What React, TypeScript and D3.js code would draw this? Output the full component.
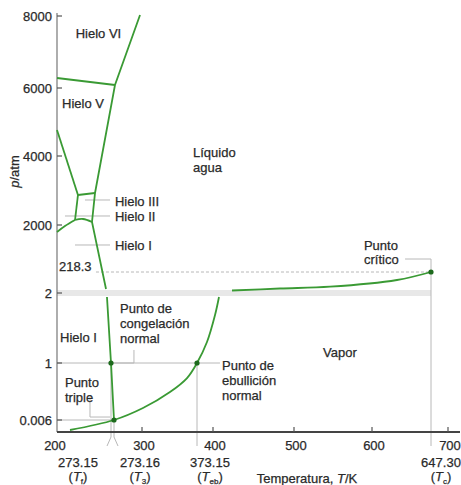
import React from "react";
import * as d3 from "d3";

const W = 461;
const H = 485;

// Schematic (piecewise) scales of the original diagram
const xKnots = [200, 273.15, 273.16, 300, 373.15, 400, 500, 600, 647.3, 700];
const xKnotPx = [57, 111, 114, 142, 197, 213, 294, 372, 431, 448];
const yKnots = [0, 0.006, 1, 2, 218.3, 2000, 4000, 6000, 8000];
const yKnotPx = [432, 420, 363, 293, 272, 225, 156, 88, 16];

const xTicks = [200, 300, 400, 500, 600, 700];
const yTicks = [0.006, 1, 2, 2000, 4000, 6000, 8000];
const yTickLabels = ["0.006", "1", "2", "2000", "4000", "6000", "8000"];

const specialT = [273.15, 273.16, 373.15, 647.3];
const specialTLabels = ["273.15", "273.16", "373.15", "647.30"];
const specialTSubs = ["f", "3", "eb", "c"];
const specialTDx = [-33, 26, 13, 10];

// Phase boundaries (T / K, p / atm)
const meltLow: [number, number][] = [[273.16, 0.006], [273.15, 1], [267.7, 1.943]];
const meltHigh: [number, number][] = [[266.4, 43.2], [247.4, 2087], [251.5, 2928], [274.1, 6083], [298.1, 8028]];
const iceV_VI: [number, number][] = [[200, 6278], [274.1, 6083]];
const iceII_V: [number, number][] = [[200, 4765], [228.4, 2870]];
const iceIII_V: [number, number][] = [[228.4, 2870], [251.5, 2928]];
const iceII_III: [number, number][] = [[224.4, 2145], [228.4, 2870]];
const iceIII_I: [number, number][] = [[224.4, 2145], [235.2, 2174], [247.4, 2087]];
const iceI_II: [number, number][] = [[200, 1735], [210.8, 1962], [224.4, 2145]];
const vapLow: [number, number][] = [
  [217.6, 0.001], [273.16, 0.006], [301.3, 0.215], [337.2, 0.494], [359.9, 0.738],
  [373.15, 1], [389.9, 1.3], [402.5, 1.686], [407.4, 1.943],
];
const vapHigh: [number, number][] = [[423.5, 27.8], [482.7, 48.4], [546.2, 66.9], [620, 136], [647.3, 218.3]];

const points: [number, number][] = [[273.15, 1], [273.16, 0.006], [373.15, 1], [647.3, 218.3]];

// Grey guide / leader lines
const guides: [number, number][][] = [
  [[200, 1], [408.6, 1]],
  [[200, 0.006], [273.16, 0.006]],
  [[237.9, 2725], [271.8, 2725]],
  [[210.8, 2261], [271.8, 2261]],
  [[224.4, 1242], [271.8, 1242]],
  [[273.15, 1], [292.3, 1], [292.3, 1.186]],
  [[244.7, 0.442], [244.7, 0.058], [271.8, 0.058]],
  [[626.5, 711], [647.3, 711]],
  [[273.15, 1], [273.15, 0]],
  [[273.16, 0.006], [273.16, 0]],
  [[373.15, 1], [373.15, 0]],
  [[647.3, 711], [647.3, 0]],
];
const critLine: [number, number][] = [[252.8, 218.3], [647.3, 218.3]];

const labels: { t: string; T: number; p: number }[] = [
  { t: "Hielo VI", T: 225.3, p: 7528 },
  { t: "Hielo V", T: 206.8, p: 5559 },
  { t: "Líquido", T: 367.8, p: 4118 },
  { t: "agua", T: 367.8, p: 3681 },
  { t: "Hielo III", T: 274.1, p: 2696 },
  { t: "Hielo II", T: 274.1, p: 2261 },
  { t: "Hielo I", T: 274.1, p: 1242 },
  { t: "Punto", T: 589.7, p: 1242 },
  { t: "crítico", T: 589.7, p: 711 },
  { t: "Punto de", T: 278.9, p: 1.786 },
  { t: "congelación", T: 278.9, p: 1.571 },
  { t: "normal", T: 278.9, p: 1.357 },
  { t: "Hielo I", T: 204.1, p: 1.371 },
  { t: "Punto", T: 210.8, p: 0.669 },
  { t: "triple", T: 210.8, p: 0.407 },
  { t: "Punto de", T: 411.1, p: 0.965 },
  { t: "ebullición", T: 411.1, p: 0.704 },
  { t: "normal", T: 411.1, p: 0.442 },
  { t: "Vapor", T: 537.2, p: 1.157 },
];

const FONT = "'Liberation Sans', Arial, sans-serif";
const GREEN = "#3a9a34";
const GREY = "#b8b8b8";
const TXT = "#2a2a2a";

export default function App() {
  const x = d3.scaleLinear().domain(xKnots).range(xKnotPx);
  const y = d3.scaleLinear().domain(yKnots).range(yKnotPx);
  const straight = d3.line<[number, number]>().x((d) => x(d[0])).y((d) => y(d[1]));
  const smooth = d3
    .line<[number, number]>()
    .x((d) => x(d[0]))
    .y((d) => y(d[1]))
    .curve(d3.curveCatmullRom.alpha(0.5));

  const x0 = x(200);
  const yAxis = y(0);

  const greenStraight = [meltLow, meltHigh, iceV_VI, iceII_V, iceIII_V, iceII_III];
  const greenSmooth = [iceIII_I, iceI_II, vapLow, vapHigh];

  const txtProps = { fontSize: 13, fill: TXT, stroke: TXT, strokeWidth: 0.25 };

  return (
    <svg
      width={W}
      height={H}
      style={{ position: "absolute", left: 0, top: 0, background: "#fff" }}
      fontFamily={FONT}
    >
      {/* axis break band */}
      <rect x={x0} y={y(2) - 3} width={x(647.3) - x0} height={6} fill="#e8e8e8" />

      {/* guide lines */}
      {guides.map((g, i) => (
        <path key={"g" + i} d={straight(g) || ""} fill="none" stroke={GREY} strokeWidth={1} />
      ))}
      <path d={straight(critLine) || ""} fill="none" stroke={GREY} strokeWidth={1} strokeDasharray="3,2" />
      {/* extensions below axis */}
      {[373.15, 647.3].map((t, i) => (
        <line key={"e" + i} x1={x(t)} x2={x(t)} y1={yAxis} y2={yAxis + 14} stroke={GREY} strokeWidth={1} />
      ))}
      <path
        d={`M${x(273.15)},${yAxis} L${x(273.15)},${yAxis + 5} L${x(273.15) - 4},${yAxis + 14}`}
        fill="none"
        stroke={GREY}
      />
      <path
        d={`M${x(273.16)},${yAxis} L${x(273.16)},${yAxis + 5} L${x(273.16) + 4},${yAxis + 14}`}
        fill="none"
        stroke={GREY}
      />

      {/* axes */}
      <line x1={x0} x2={x0} y1={13} y2={yAxis} stroke="#777" strokeWidth={1.2} />
      <line x1={x0} x2={460} y1={yAxis} y2={yAxis} stroke="#444" strokeWidth={2} />
      {xTicks.map((t) => (
        <g key={"xt" + t}>
          {t !== 200 && <line x1={x(t)} x2={x(t)} y1={yAxis} y2={yAxis - 5} stroke="#555" strokeWidth={1.2} />}
          <text x={x(t) + (t === 200 ? -2 : 2)} y={yAxis + 13} dy="0.35em" textAnchor="middle" {...txtProps}>
            {t}
          </text>
        </g>
      ))}
      {yTicks.map((p, i) => (
        <g key={"yt" + p}>
          <line x1={x0} x2={x0 + 5} y1={y(p)} y2={y(p)} stroke="#555" strokeWidth={1.2} />
          <text x={x0 - 5} y={y(p)} dy="0.35em" textAnchor="end" {...txtProps}>
            {yTickLabels[i]}
          </text>
        </g>
      ))}
      <text x={x0 + 2} y={y(218.3) - 6} dy="0.35em" {...txtProps}>
        218.3
      </text>

      {/* special temperatures */}
      {specialT.map((t, i) => (
        <g key={"st" + i}>
          <text x={x(t) + specialTDx[i]} y={yAxis + 30} dy="0.35em" textAnchor="middle" {...txtProps}>
            {specialTLabels[i]}
          </text>
          <text x={x(t) + specialTDx[i]} y={yAxis + 44} dy="0.35em" textAnchor="middle" {...txtProps}>
            (<tspan fontStyle="italic">T</tspan>
            <tspan fontSize={8} dy={3}>{specialTSubs[i]}</tspan>
            <tspan dy={-3}>)</tspan>
          </text>
        </g>
      ))}

      <text x={307} y={yAxis + 46} dy="0.35em" textAnchor="middle" {...txtProps}>
        Temperatura, <tspan fontStyle="italic">T</tspan>/K
      </text>
      <text
        transform={`translate(14,${y(3550)}) rotate(-90)`}
        textAnchor="middle"
        dy="0.35em"
        {...txtProps}
      >
        <tspan fontStyle="italic">p</tspan>/atm
      </text>

      {/* phase boundaries */}
      {greenStraight.map((c, i) => (
        <path key={"gs" + i} d={straight(c) || ""} fill="none" stroke={GREEN} strokeWidth={1.8} />
      ))}
      {greenSmooth.map((c, i) => (
        <path key={"gc" + i} d={smooth(c) || ""} fill="none" stroke={GREEN} strokeWidth={1.8} />
      ))}
      {points.map((d, i) => (
        <circle key={"pt" + i} cx={x(d[0])} cy={y(d[1])} r={2.6} fill="#1d6a1d" />
      ))}

      {/* region labels */}
      {labels.map((l, i) => (
        <text key={"l" + i} x={x(l.T)} y={y(l.p)} dy="0.35em" {...txtProps}>
          {l.t}
        </text>
      ))}
    </svg>
  );
}
